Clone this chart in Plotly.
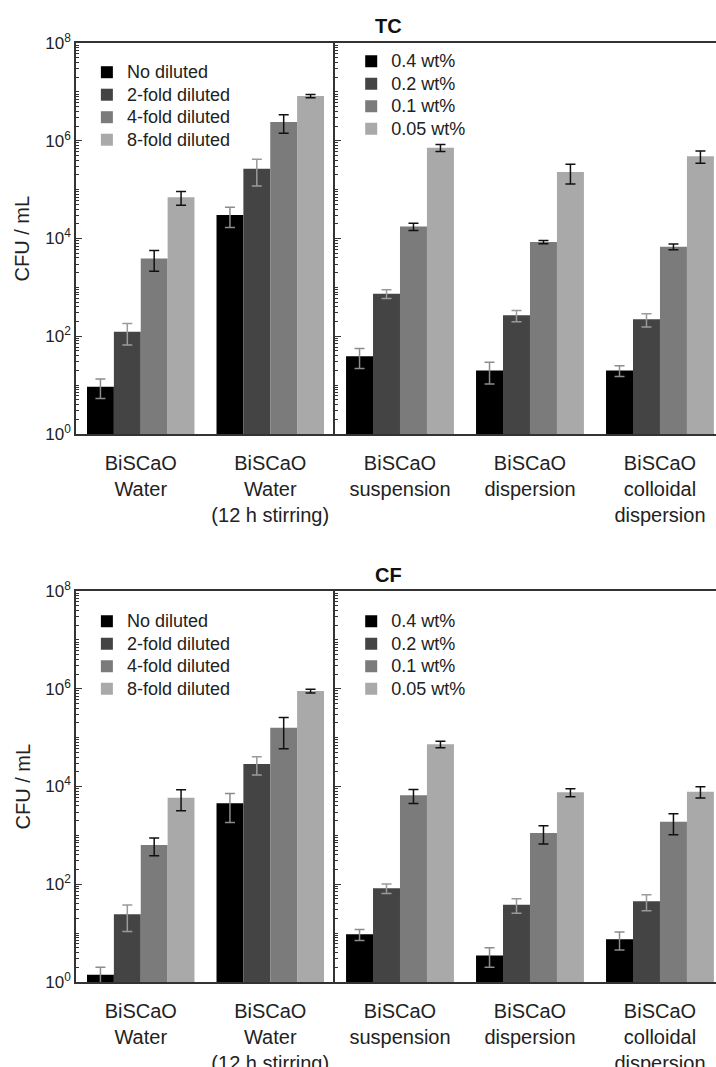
import plotly.graph_objects as go

# ---------------- data ----------------
groups_left = ["BiSCaO<br>Water", "BiSCaO<br>Water<br>(12 h stirring)"]
groups_right = ["BiSCaO<br>suspension", "BiSCaO<br>dispersion", "BiSCaO<br>colloidal<br>dispersion"]
series_left = ["No diluted", "2-fold diluted", "4-fold diluted", "8-fold diluted"]
series_right = ["0.4 wt%", "0.2 wt%", "0.1 wt%", "0.05 wt%"]

# TC (CFU/mL)
tc_no_diluted = [9.3, 30300]
tc_2fold = [124, 268000]
tc_4fold = [3900, 2420000]
tc_8fold = [69700, 8200000]
tc_no_diluted_err = [4, 13500]
tc_2fold_err = [58, 150000]
tc_4fold_err = [1750, 1000000]
tc_8fold_err = [22000, 600000]

tc_04 = [39, 20, 20]
tc_02 = [743, 268, 222]
tc_01 = [17500, 8500, 6800]
tc_005 = [721000, 230000, 480000]
tc_04_err = [17, 9.5, 5]
tc_02_err = [150, 70, 67]
tc_01_err = [3000, 650, 900]
tc_005_err = [120000, 100000, 135000]

# CF (CFU/mL)
cf_no_diluted = [1.4, 4530]
cf_2fold = [24.3, 28900]
cf_4fold = [635, 159500]
cf_8fold = [5900, 899000]
cf_no_diluted_err = [0.6, 2700]
cf_2fold_err = [13.5, 11700]
cf_4fold_err = [250, 100000]
cf_8fold_err = [2700, 80000]

cf_04 = [9.5, 3.5, 7.5]
cf_02 = [82.6, 38.2, 44.8]
cf_01 = [6600, 1120, 1900]
cf_005 = [73000, 7600, 7830]
cf_04_err = [2.4, 1.5, 3]
cf_02_err = [18, 12.6, 16]
cf_01_err = [2100, 450, 870]
cf_005_err = [11000, 1400, 2000]

y_tickvals = [1, 100, 1e4, 1e6, 1e8]
y_ticktext = ["10<sup>0</sup>", "10<sup>2</sup>", "10<sup>4</sup>",
              "10<sup>6</sup>", "10<sup>8</sup>"]
minor_vals = [m * 10 ** d for d in range(0, 8) for m in range(2, 11)]

# ---------------- styles ----------------
bar_colors = ["#000000", "#444444", "#7b7b7b", "#a9a9a9"]
err_colors = ["#8c8c8c", "#9a9a9a", "#111111", "#111111"]
FONT = "Liberation Sans, Arial, Helvetica, sans-serif"

fig = go.Figure()


def add_set(names, cats, vals, errs, xa, ya, legend):
    for i, (nm, v, e) in enumerate(zip(names, vals, errs)):
        fig.add_trace(go.Bar(
            x=cats, y=v, name='<span style="font-size:18px">%s</span>' % nm,
            xaxis=xa, yaxis=ya, legend=legend,
            marker=dict(color=bar_colors[i], line=dict(width=0)),
            error_y=dict(type="data", array=e, color=err_colors[i],
                         thickness=1.5, width=5),
        ))


add_set(series_left, groups_left,
        [tc_no_diluted, tc_2fold, tc_4fold, tc_8fold],
        [tc_no_diluted_err, tc_2fold_err, tc_4fold_err, tc_8fold_err],
        "x", "y", "legend")
add_set(series_right, groups_right,
        [tc_04, tc_02, tc_01, tc_005],
        [tc_04_err, tc_02_err, tc_01_err, tc_005_err],
        "x2", "y2", "legend2")
add_set(series_left, groups_left,
        [cf_no_diluted, cf_2fold, cf_4fold, cf_8fold],
        [cf_no_diluted_err, cf_2fold_err, cf_4fold_err, cf_8fold_err],
        "x3", "y3", "legend3")
add_set(series_right, groups_right,
        [cf_04, cf_02, cf_01, cf_005],
        [cf_04_err, cf_02_err, cf_01_err, cf_005_err],
        "x4", "y4", "legend4")

XL = 259 / 640
TOP = [548 / 939, 1.0]
BOT = [0.0, 391 / 939]
LINE = "#333333"

xcommon = dict(showline=True, linecolor=LINE, linewidth=1.5, mirror=True,
               ticks="", showgrid=False, zeroline=False, type="category",
               automargin=False,
               tickfont=dict(size=20, color="#222", family=FONT),
               ticklabelstandoff=10)
ycommon = dict(type="log", range=[0, 8], showline=True, linecolor=LINE,
               linewidth=1.5, ticks="inside", ticklen=6, tickwidth=1,
               tickcolor=LINE, tickvals=y_tickvals, ticktext=y_ticktext,
               showgrid=False, zeroline=False, automargin=False,
               tickfont=dict(size=17, color="#222", family=FONT),
               minor=dict(ticks="inside", ticklen=3, tickwidth=1,
                          tickcolor=LINE, tickvals=minor_vals, showgrid=False))

fig.update_layout(
    xaxis=dict(domain=[0, XL], anchor="y", range=[-0.5, 1.5], **xcommon),
    xaxis2=dict(domain=[XL, 1], anchor="y2", range=[-0.5, 2.431], **xcommon),
    xaxis3=dict(domain=[0, XL], anchor="y3", range=[-0.5, 1.5], **xcommon),
    xaxis4=dict(domain=[XL, 1], anchor="y4", range=[-0.5, 2.431], **xcommon),
    yaxis=dict(domain=TOP, anchor="x", **ycommon),
    yaxis2=dict(domain=TOP, anchor="x2", showticklabels=False, **ycommon),
    yaxis3=dict(domain=BOT, anchor="x3", **ycommon),
    yaxis4=dict(domain=BOT, anchor="x4", showticklabels=False, **ycommon),
)

leg = dict(font=dict(size=15, color="#222", family=FONT),
           bgcolor="rgba(0,0,0,0)", xanchor="left", yanchor="top",
           tracegroupgap=0, itemclick=False, itemdoubleclick=False)

fig.update_layout(
    width=716, height=1067,
    margin=dict(l=76, r=0, t=43, b=85, autoexpand=False),
    plot_bgcolor="white", paper_bgcolor="white",
    barmode="group", bargap=0.17, bargroupgap=0,
    font=dict(family=FONT, color="#222"),
    showlegend=True,
    legend=dict(x=0.017, y=0.9862, **leg),
    legend2=dict(x=0.43, y=0.9979, **leg),
    legend3=dict(x=0.017, y=0.4015, **leg),
    legend4=dict(x=0.43, y=0.4015, **leg),
    annotations=[
        dict(text="<b>TC</b>", x=0.4875, y=(982 - 26) / 939, xref="paper",
             yref="paper", showarrow=False, xanchor="center", yanchor="middle",
             font=dict(size=20, family=FONT, color="#111")),
        dict(text="<b>CF</b>", x=0.4875, y=(982 - 575) / 939, xref="paper",
             yref="paper", showarrow=False, xanchor="center", yanchor="middle",
             font=dict(size=20, family=FONT, color="#111")),
        dict(text="CFU / mL", x=(22 - 76) / 640, y=(982 - 238.5) / 939,
             xref="paper", yref="paper", showarrow=False, textangle=-90,
             xanchor="center", yanchor="middle",
             font=dict(size=20, family=FONT, color="#222")),
        dict(text="CFU / mL", x=(22 - 76) / 640, y=(982 - 786.5) / 939,
             xref="paper", yref="paper", showarrow=False, textangle=-90,
             xanchor="center", yanchor="middle",
             font=dict(size=20, family=FONT, color="#222")),
    ],
)

fig.write_html("out.html", config={"displayModeBar": False},
               post_script="document.body.style.margin='0';document.body.style.overflow='hidden';")
